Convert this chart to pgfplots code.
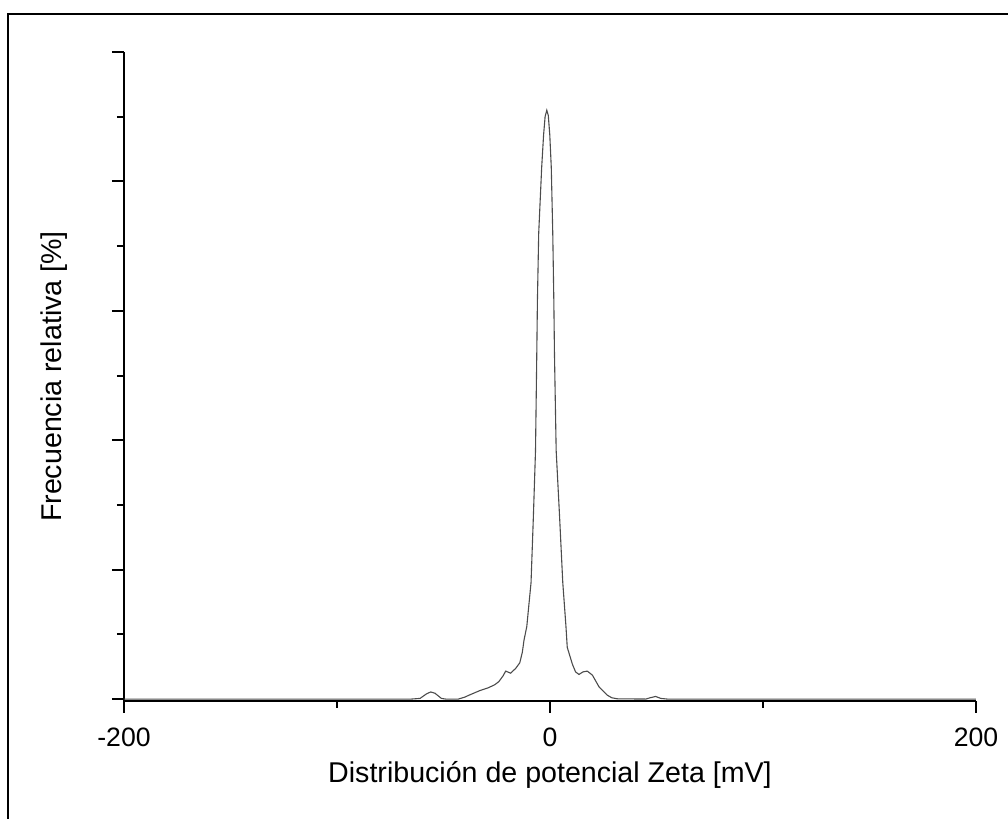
\documentclass[border=0pt]{standalone}
\usepackage{pgfplots}
\pgfplotsset{compat=1.18}
\usepackage{fontspec}
\setmainfont{Liberation Sans}
\begin{document}
\begin{tikzpicture}
\useasboundingbox (-62pt,-59pt) rectangle (442pt,350.5pt);
\draw[line width=1pt] (-58pt,-60pt) -- (-58pt,343.5pt) -- (443pt,343.5pt);
\begin{axis}[
  at={(0,0)}, anchor=south west,
  scale only axis, width=426pt, height=324.5pt,
  xmin=-200, xmax=200, ymin=-0.15, ymax=50,
  axis x line=bottom, axis y line=left,
  axis line style={-, line width=1pt},
  tick align=outside,
  major tick length=6pt, minor tick length=3.5pt,
  every tick/.style={black, line width=1pt},
  xtick={-200,0,200}, xticklabels={-200,0,200},
  minor xtick={-100,100},
  ytick={0,10,20,30,40,50}, yticklabels={},
  minor ytick={5,15,25,35,45},
  tick label style={font=\fontsize{13.3}{16}\selectfont},
  x tick label style={yshift=-4pt},
  xlabel={Distribución de potencial Zeta [mV]},
  ylabel={Frecuencia relativa [\%]},
  label style={font=\fontsize{14.3}{17}\selectfont},
  x label style={at={(axis description cs:0.5,0)}, anchor=center, yshift=-37pt},
  y label style={at={(axis description cs:0,0.5)}, anchor=center, yshift=35pt},
  clip=false,
]
\addplot[black!70, line width=0.55pt] coordinates {
(-200,0) (-65,0) (-61,0.05) (-58,0.4) (-56,0.55) (-54,0.45) (-51,0.05) (-49,0)
(-43,0) (-40,0.15) (-38,0.3) (-33,0.65) (-29,0.87) (-26,1.1) (-24,1.35) (-22,1.8)
(-20.8,2.16) (-18.5,2.0) (-16.1,2.37) (-14.2,2.8) (-13,3.6) (-12.2,4.55) (-10.9,5.6)
(-8.9,9.0) (-7.8,14.1) (-6.8,19.2) (-6.2,26.7) (-5.9,30.8) (-5.3,36.0) (-3.9,41.1)
(-3.0,43.6) (-2.3,45.0) (-1.5,45.5) (-0.8,45.1) (-0.1,43.6) (0.6,41.1) (1.3,36.0) (1.8,30.8) (2.1,26.7)
(2.9,19.2) (4.5,14.1) (6.0,9.0) (7.5,5.6) (8.1,4.0) (10.5,2.7) (12,2.1) (13.6,1.9)
(15.5,2.1) (17.5,2.16) (19.9,1.85) (23,0.95) (26.9,0.3) (29,0.1) (31.6,0.02)
(45,0) (47,0.1) (49.6,0.2) (52,0.05) (55,0) (200,0)
};
\end{axis}
\end{tikzpicture}
\end{document}
